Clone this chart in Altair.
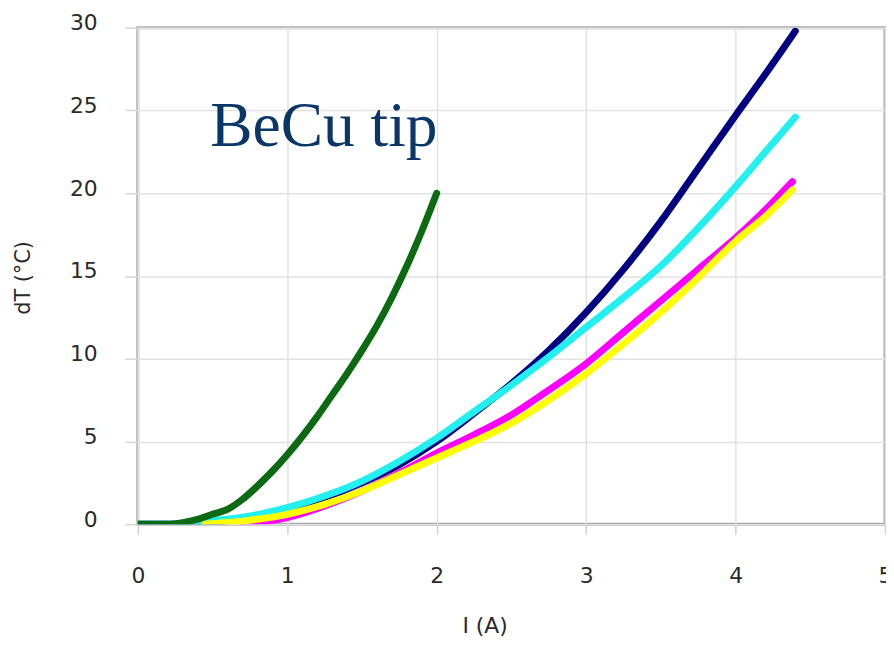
import altair as alt
import pandas as pd

# ---- data ----
green_x = [0, 0.2, 0.3, 0.4, 0.5, 0.6, 0.7, 0.8, 0.9, 1.0, 1.1, 1.2, 1.3, 1.4, 1.5, 1.6, 1.7, 1.8, 1.9, 2.0]
green_y = [0, 0, 0.1, 0.3, 0.6, 0.9, 1.5, 2.3, 3.2, 4.2, 5.3, 6.5, 7.8, 9.1, 10.5, 12.0, 13.7, 15.6, 17.7, 20.0]

navy_x = [0, 0.3, 0.5, 0.75, 1.0, 1.25, 1.5, 1.75, 2.0, 2.25, 2.5, 2.75, 3.0, 3.25, 3.5, 3.75, 4.0, 4.2, 4.4]
navy_y = [0, 0, 0.1, 0.4, 0.9, 1.6, 2.5, 3.6, 5.0, 6.7, 8.5, 10.5, 12.8, 15.4, 18.3, 21.5, 24.7, 27.2, 29.8]

cyan_x = [0, 0.3, 0.5, 0.75, 1.0, 1.25, 1.5, 1.75, 2.0, 2.25, 2.5, 2.75, 3.0, 3.25, 3.5, 3.75, 4.0, 4.2, 4.4]
cyan_y = [0, 0, 0.2, 0.5, 1.0, 1.7, 2.6, 3.8, 5.2, 6.8, 8.4, 10.1, 11.9, 13.7, 15.6, 17.9, 20.4, 22.5, 24.6]

magenta_x = [0.7, 0.85, 1.0, 1.25, 1.5, 1.75, 2.0, 2.25, 2.5, 2.75, 3.0, 3.25, 3.5, 3.75, 4.0, 4.2, 4.38]
magenta_y = [0, 0.15, 0.4, 1.1, 2.0, 3.1, 4.3, 5.4, 6.6, 8.1, 9.7, 11.6, 13.5, 15.4, 17.3, 19.0, 20.7]

yellow_x = [0.45, 0.6, 0.8, 1.0, 1.25, 1.5, 1.75, 2.0, 2.25, 2.5, 2.75, 3.0, 3.25, 3.5, 3.75, 4.0, 4.2, 4.38]
yellow_y = [0, 0.1, 0.3, 0.6, 1.2, 2.0, 3.0, 4.0, 5.0, 6.1, 7.5, 9.1, 10.9, 12.8, 14.9, 17.1, 18.6, 20.2]

series_names = ["navy", "cyan", "magenta", "yellow", "green"]
series_colors = ["#000080", "#22F0F0", "#FF00FF", "#FFFF00", "#0B6A12"]
series_data = {
    "navy": (navy_x, navy_y),
    "cyan": (cyan_x, cyan_y),
    "magenta": (magenta_x, magenta_y),
    "yellow": (yellow_x, yellow_y),
    "green": (green_x, green_y),
}

x_ticks = [0, 1, 2, 3, 4, 5]
y_ticks = [0, 5, 10, 15, 20, 25, 30]

annotation_text = ["BeCu tip"]
annotation_x = [0.485]
annotation_y = [22.85]

FONT = "DejaVu Sans"

x_scale = alt.Scale(domain=[0, 5], nice=False)
y_scale = alt.Scale(domain=[0, 30], nice=False)

x_axis = alt.Axis(
    values=x_ticks, title="I (A)", grid=True, gridColor="#e2e2e2", gridWidth=1.5,
    domain=False, tickColor="#cfcfcf", tickSize=10, tickWidth=1.5,
    labelFont=FONT, labelFontSize=22, labelColor="#2a2a2a", labelPadding=32, labelFlush=False,
    titleFont=FONT, titleFontSize=22, titleFontWeight="normal", titleColor="#2a2a2a",
    titleX=350, titleY=102, titleBaseline="middle", titleAlign="center",
)
y_axis = alt.Axis(
    values=y_ticks, title="dT (°C)", grid=True, gridColor="#e2e2e2", gridWidth=1.5,
    domain=False, tickColor="#d5d5d5", tickSize=13, tickWidth=1.5,
    labelFont=FONT, labelFontSize=22, labelColor="#2a2a2a", labelPadding=28, labelOffset=-5,
    labelFlush=False,
    titleFont=FONT, titleFontSize=21, titleFontWeight="normal", titleColor="#2a2a2a",
    titleX=-115, titleY=252, titleAngle=270, titleBaseline="middle", titleAlign="center",
)

enc_x = alt.X("I:Q", scale=x_scale, axis=x_axis)
enc_y = alt.Y("dT:Q", scale=y_scale, axis=y_axis)

layers = []
for name, color in zip(series_names, series_colors):
    xs, ys = series_data[name]
    df = pd.DataFrame({"I": xs, "dT": ys, "order": list(range(len(xs)))})
    layers.append(
        alt.Chart(df).mark_line(color=color, strokeWidth=7, strokeCap="round",
                                strokeJoin="round", interpolate="monotone", clip=True)
        .encode(x=enc_x, y=enc_y, order="order:Q")
    )

ann_df = pd.DataFrame({"text": annotation_text, "I": annotation_x, "dT": annotation_y})
annotation = alt.Chart(ann_df).mark_text(
    font="Liberation Serif", fontSize=64, color="#0B3768", align="left", baseline="alphabetic"
).encode(x=enc_x, y=enc_y, text="text:N")

chart = alt.layer(*layers, annotation).properties(
    width=754, height=501,
    autosize=alt.AutoSizeParams(type="none"),
    padding={"left": 131, "top": 17, "right": 1, "bottom": 120},
).configure(background="white").configure_view(stroke="#a8a8a8", strokeWidth=3)

chart.save("out.html", embed_options={"renderer": "svg", "actions": False})
